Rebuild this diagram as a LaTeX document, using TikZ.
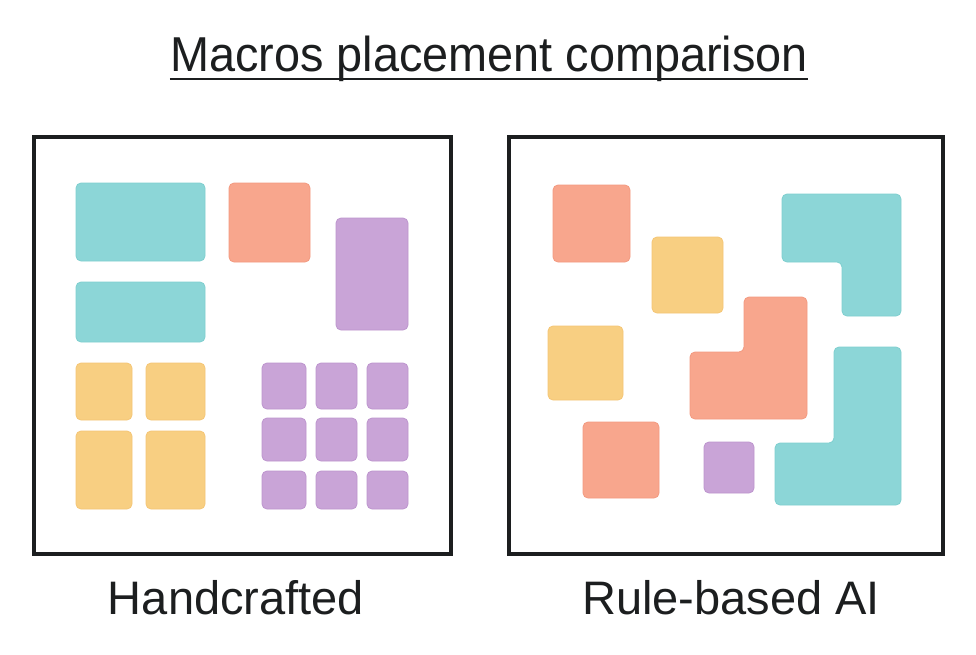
\documentclass[tikz,border=0pt]{standalone}
\usepackage{fontspec}
\setmainfont{Liberation Sans}
\definecolor{tealf}{HTML}{8CD6D7}
\definecolor{tealb}{HTML}{7FCFCF}
\definecolor{orangef}{HTML}{F8A68D}
\definecolor{orangeb}{HTML}{F39A80}
\definecolor{yellowf}{HTML}{F8CF82}
\definecolor{yellowb}{HTML}{F5C676}
\definecolor{purplef}{HTML}{C9A4D7}
\definecolor{purpleb}{HTML}{BD95CE}
\definecolor{framec}{HTML}{1C1E1F}
\tikzset{
  blk/.style={rounded corners=5pt, line width=0.8pt},
  tealblk/.style={blk, fill=tealf, draw=tealb},
  orangeblk/.style={blk, fill=orangef, draw=orangeb},
  yellowblk/.style={blk, fill=yellowf, draw=yellowb},
  purpleblk/.style={blk, fill=purplef, draw=purpleb},
  frame/.style={draw=framec, line width=4pt},
  lbl/.style={font=\fontsize{47}{47}\selectfont, text=framec, inner sep=0pt, anchor=base},
}
\begin{document}
\begin{tikzpicture}[x=1pt,y=-1pt]
\useasboundingbox[fill=white] (0,0) rectangle (976,654);
% title
\node[lbl, font=\fontsize{49}{49}\selectfont, xscale=0.956] (title) at (489,71) {Macros placement comparison};
\draw[framec, line width=2.6pt] ([yshift=-8pt]title.base west) -- ([yshift=-8pt]title.base east);
% frames
\draw[frame] (34,137) rectangle (451,554);
\draw[frame] (509,137) rectangle (943,554);
% left blocks
\draw[tealblk] (76,183) rectangle (205,261);
\draw[tealblk] (76,282) rectangle (205,342);
\draw[orangeblk] (229,183) rectangle (310,262);
\draw[purpleblk] (336,218) rectangle (408,330);
\draw[yellowblk] (76,363) rectangle (132,420);
\draw[yellowblk] (146,363) rectangle (205,420);
\draw[yellowblk] (76,431) rectangle (132,509);
\draw[yellowblk] (146,431) rectangle (205,509);
\foreach \xa/\xb in {262/306, 316/357, 367/408}{
  \draw[purpleblk] (\xa,363) rectangle (\xb,409);
  \draw[purpleblk] (\xa,418) rectangle (\xb,461);
  \draw[purpleblk] (\xa,471) rectangle (\xb,509);
}
% right blocks
\draw[orangeblk] (553,185) rectangle (630,262);
\draw[yellowblk] (652,237) rectangle (723,313);
\draw[tealblk] (782,194) -- (901,194) -- (901,316) -- (842,316) -- (842,262) -- (782,262) -- cycle;
\draw[yellowblk] (548,326) rectangle (623,400);
\draw[orangeblk] (744,297) -- (807,297) -- (807,419) -- (690,419) -- (690,352) -- (744,352) -- cycle;
\draw[orangeblk] (583,422) rectangle (659,498);
\draw[purpleblk] (704,442) rectangle (754,493);
\draw[tealblk] (834,347) -- (901,347) -- (901,505) -- (775,505) -- (775,443) -- (834,443) -- cycle;
% labels
\node[lbl] (hand) at (236,614) {Handcrafted};
\node[lbl] (rule) at (731,614) {Rule-based AI};
\end{tikzpicture}
\end{document}
